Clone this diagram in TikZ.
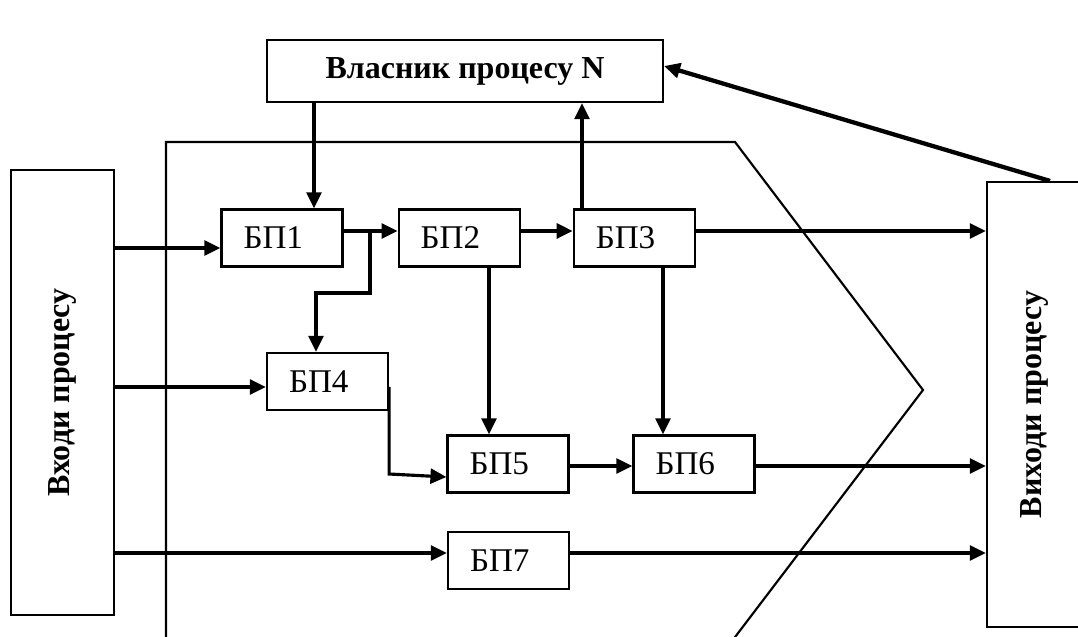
\documentclass[tikz,border=0pt]{standalone}
\usepackage{fontspec}
\setmainfont{Liberation Serif}
\usepackage{graphicx}
\usetikzlibrary{arrows.meta, positioning}

\begin{document}
\begin{tikzpicture}[
    x=0.35pt, y=-0.35pt,
    bpbox/.style={draw, line width=0.75pt, minimum width=42.35pt, minimum height=19.95pt, inner xsep=7.7pt, text width=26.95pt, align=left, font=\fontsize{11.6}{14}\selectfont},
    ownerbox/.style={draw, line width=0.75pt, minimum width=138.6pt, minimum height=21.7pt, font=\fontsize{11.2}{13}\selectfont\bfseries},
    sidebox/.style={draw, line width=0.75pt, minimum height=155.75pt, inner sep=0pt, font=\fontsize{11.2}{13}\selectfont\bfseries},
    arr/.style={-{Triangle[length=5.6pt, width=5.2pt]}, line width=1.1pt},
    fbarr/.style={arr, line width=1.5pt},
    boundary/.style={line width=0.75pt}
]
\useasboundingbox (0,0) rectangle (1078,637);

% Process boundary
\draw[boundary] (166,645) -- (166,142) -- (735,142) -- (923,390) -- (729,645);

% Main nodes
\node[ownerbox] (owner) at (465,71) {Власник процесу N};
\node[sidebox, minimum width=36.05pt] (inputs) at (62.5,392.5) {\rotatebox{90}{Входи процесу}};
\node[sidebox, minimum width=33.25pt] (outputs) at (1034.5,404.5) {\rotatebox{90}{Виходи процесу}};

\node[bpbox] (bp1) at (282,238) {БП1};
\node[bpbox, right=18.9pt of bp1] (bp2) {БП2};
\node[bpbox, right=18.2pt of bp2] (bp3) {БП3};
\node[bpbox] (bp4) at (327.5,381.5) {БП4};
\node[bpbox] (bp5) at (508,464) {БП5};
\node[bpbox, right=22pt of bp5] (bp6) {БП6};
\node[bpbox] (bp7) at (508.5,560.5) {БП7};

% Inputs to blocks
\draw[arr] (inputs.east |- 0,248) -- (bp1.west |- 0,248);
\draw[arr] (inputs.east |- 0,387) -- (bp4.west |- 0,387);
\draw[arr] (inputs.east |- 0,553) -- (bp7.west |- 0,553);

% Top row
\coordinate (split) at (370,231);
\draw[arr] (bp1.east |- 0,231) -- (bp2.west |- 0,231);
\draw[arr] (bp2.east |- 0,231) -- (bp3.west |- 0,231);
\draw[arr] (bp3.east |- 0,231) -- (outputs.west |- 0,231);
\draw[arr] (split) -- (370,293) -| (bp4.north -| 316,0);

% Owner links
\draw[arr] (owner.south -| 314,0) -- (bp1.north -| 314,0);
\draw[arr] (bp3.north -| 582,0) -- (owner.south -| 582,0);
\draw[fbarr] (outputs.north -| 1050,0) -- (owner.east |- 0,66);

% Lower rows
\draw[arr] (bp2.south -| 489,0) -- (bp5.north -| 489,0);
\draw[arr] (bp3.south -| 663,0) -- (bp6.north -| 663,0);
\draw[arr] (bp4.east |- 0,387) -- (bp4.east |- 0,474) -- (bp5.west |- 0,477);
\draw[arr] (bp5.east |- 0,466) -- (bp6.west |- 0,466);
\draw[arr] (bp6.east |- 0,466) -- (outputs.west |- 0,466);
\draw[arr] (bp7.east |- 0,553) -- (outputs.west |- 0,553);

\end{tikzpicture}
\end{document}
